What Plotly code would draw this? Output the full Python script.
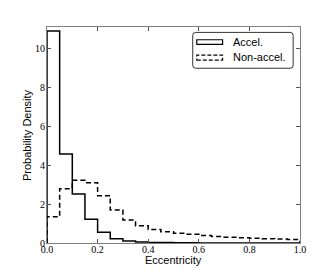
import numpy as np
import plotly.graph_objects as go

bin_width = 0.05
bin_edges = [round(i * bin_width, 2) for i in range(21)]
accel = [10.9, 4.57, 2.52, 1.22, 0.55, 0.22, 0.10, 0.05, 0.03, 0.02,
         0.01, 0.01, 0.0, 0.0, 0.0, 0.0, 0.0, 0.0, 0.0, 0.0]
nonaccel = [1.35, 2.79, 3.22, 3.10, 2.43, 1.70, 1.18, 0.89, 0.70, 0.58,
            0.50, 0.45, 0.38, 0.33, 0.30, 0.27, 0.25, 0.22, 0.20, 0.18]
x_ticks = [0.0, 0.2, 0.4, 0.6, 0.8, 1.0]
y_ticks = [0, 2, 4, 6, 8, 10]


def step_xy(vals):
    xs = [bin_edges[0]] + bin_edges[:-1] + [bin_edges[-1]]
    ys = [0] + list(vals) + [0]
    return xs, ys


fig = go.Figure()
xa, ya = step_xy(accel)
fig.add_trace(go.Scatter(x=xa, y=ya, mode="lines", line_shape="hv",
                         line=dict(color="black", width=1.5), name="Accel.",
                         showlegend=False))
xn, yn = step_xy(nonaccel)
fig.add_trace(go.Scatter(x=xn, y=yn, mode="lines", line_shape="hv",
                         line=dict(color="black", width=1.5, dash="5px,3px"),
                         name="Non-accel.", showlegend=False))

axis_common = dict(showgrid=False, zeroline=False, ticks="inside", ticklen=4,
                   tickcolor="#555", mirror="allticks", showline=True,
                   linecolor="#808080", linewidth=1.2,
                   tickfont=dict(family="Liberation Serif", size=10, color="black"))

fig.update_xaxes(range=[0, 1], tickmode="array", tickvals=x_ticks,
                 tickformat=".1f", ticklabelstandoff=-3,
                 **axis_common)
fig.update_yaxes(range=[0, 11.1], tickmode="array", tickvals=y_ticks,
                 tickformat="d", ticklabelstandoff=-1,
                 **axis_common)

# axis titles
fig.add_annotation(x=0.5, y=-0.077, xref="paper", yref="paper", text="Eccentricity",
                   showarrow=False, xanchor="center", yanchor="middle",
                   font=dict(family="Liberation Sans", size=11, color="black"))
fig.add_annotation(x=-0.079, y=0.5, xref="paper", yref="paper", text="Probability Density",
                   showarrow=False, xanchor="center", yanchor="middle", textangle=-90,
                   font=dict(family="Liberation Sans", size=11, color="black"))

# manual legend
def rounded_rect(x0, y0, x1, y1, rx, ry):
    return (f"M{x0+rx},{y0} L{x1-rx},{y0} Q{x1},{y0} {x1},{y0+ry} "
            f"L{x1},{y1-ry} Q{x1},{y1} {x1-rx},{y1} L{x0+rx},{y1} "
            f"Q{x0},{y1} {x0},{y1-ry} L{x0},{y0+ry} Q{x0},{y0} {x0+rx},{y0} Z")

fig.add_shape(type="path", xref="paper", yref="paper",
              path=rounded_rect(0.576, 0.809, 0.973, 0.975, 0.012, 0.014),
              line=dict(color="black", width=0.8), fillcolor="white")
fig.add_shape(type="rect", xref="paper", yref="paper",
              x0=0.592, x1=0.694, y0=0.920, y1=0.941,
              line=dict(color="black", width=1.2))
fig.add_shape(type="rect", xref="paper", yref="paper",
              x0=0.592, x1=0.694, y0=0.847, y1=0.870,
              line=dict(color="black", width=1.2, dash="4px,2px"))
fig.add_annotation(x=0.727, y=0.931, xref="paper", yref="paper", text="Accel.",
                   showarrow=False, xanchor="left", yanchor="middle",
                   font=dict(family="Liberation Sans", size=11, color="black"))
fig.add_annotation(x=0.727, y=0.859, xref="paper", yref="paper", text="Non-accel.",
                   showarrow=False, xanchor="left", yanchor="middle",
                   font=dict(family="Liberation Sans", size=11, color="black"))

# page body has an 8px margin; compensate so the plot area lands at 47..300 x 27..243
fig.update_layout(width=307, height=262,
                  margin=dict(l=39, r=15, t=19, b=27, autoexpand=False),
                  plot_bgcolor="white", paper_bgcolor="white")

fig.write_html("out.html")
